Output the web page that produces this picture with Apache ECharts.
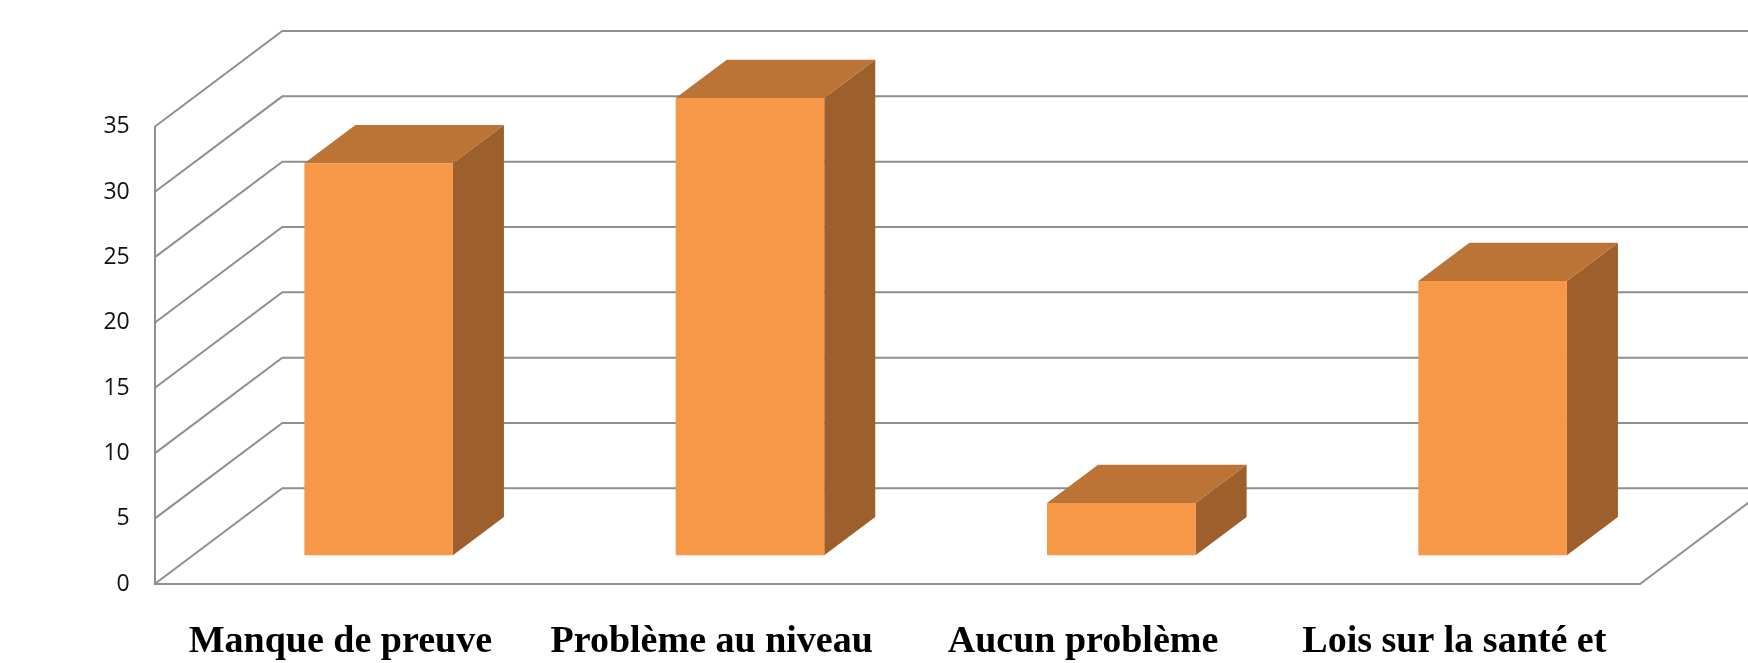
<!DOCTYPE html>
<html>
<head>
<meta charset="utf-8">
<title>Problèmes</title>
<script src="https://cdn.jsdelivr.net/npm/echarts@6/dist/echarts.min.js"></script>
<style>
  html, body { margin: 0; padding: 0; background: #fff; }
  #chart { width: 1748px; height: 663px; }
</style>
</head>
<body>
<div id="chart"></div>
<script>
  // données
  const categories = ['Manque de preuve', 'Problème au niveau', 'Aucun problème', 'Lois sur la santé et'];
  const values = [30, 35, 4, 21];
  const yTicks = [0, 5, 10, 15, 20, 25, 30, 35];

  // profondeur de la vue 3D (en pixels)
  const DX = 127.6;
  const DY = -95.7;
  const GRID_COLOR = '#8f8f8f';

  const chart = echarts.init(document.getElementById('chart'));

  // murs : une ligne par graduation (face gauche + mur du fond)
  function renderWall(params, api) {
    const cs = params.coordSys;
    const v = api.value(0);
    const y = api.coord([0, v])[1];
    const left = cs.x;
    const right = cs.x + cs.width;
    const children = [{
      type: 'polyline',
      shape: { points: [[left, y], [left + DX, y + DY], [right + DX, y + DY]] },
      style: { stroke: GRID_COLOR, lineWidth: 2, fill: null }
    }];
    if (v === 0) {
      // arête droite du sol
      children.push({
        type: 'line',
        shape: { x1: right, y1: y, x2: right + DX, y2: y + DY },
        style: { stroke: GRID_COLOR, lineWidth: 2 }
      });
    }
    return { type: 'group', children: children };
  }

  // barres 3D
  function renderBar(params, api) {
    const i = api.value(0);
    const v = api.value(1);
    const base = api.coord([i, 0]);
    const top = api.coord([i, v]);
    const bw = api.size([1, 0])[0] * 0.4;
    const fx = DX * 0.3, fy = DY * 0.3;   // décalage de la face avant
    const bx = DX * 0.4, by = DY * 0.4;   // épaisseur de la barre
    const x0 = base[0] + fx - bw / 2;
    const x1 = x0 + bw;
    const yb = base[1] + fy;
    const yt = top[1] + fy;
    return {
      type: 'group',
      children: [
        {
          type: 'polygon',
          shape: { points: [[x1, yt], [x1 + bx, yt + by], [x1 + bx, yb + by], [x1, yb]] },
          style: { fill: '#9d602d' }
        },
        {
          type: 'polygon',
          shape: { points: [[x0, yt], [x0 + bx, yt + by], [x1 + bx, yt + by], [x1, yt]] },
          style: { fill: '#bb7336' }
        },
        {
          type: 'rect',
          shape: { x: x0, y: yt, width: bw, height: yb - yt },
          style: { fill: '#f79748' }
        }
      ]
    };
  }

  const option = {
    animation: false,
    grid: { left: 154.7, right: 108, top: 126.7, bottom: 79 },
    xAxis: {
      type: 'category',
      data: categories,
      axisLine: { show: true, lineStyle: { color: GRID_COLOR, width: 2 } },
      axisTick: { show: false },
      axisLabel: {
        interval: 0,
        margin: 39,
        color: '#000',
        fontFamily: 'Liberation Serif',
        fontWeight: 'bold',
        fontSize: 38
      },
      splitLine: { show: false }
    },
    yAxis: {
      type: 'value',
      min: 0,
      max: 35,
      interval: 5,
      axisLine: { show: true, lineStyle: { color: GRID_COLOR, width: 2 } },
      axisTick: { show: false },
      axisLabel: {
        margin: 25,
        color: '#111',
        fontFamily: 'Open Sans',
        fontSize: 23
      },
      splitLine: { show: false }
    },
    series: [
      {
        type: 'custom',
        renderItem: renderWall,
        data: yTicks.map(t => [t]),
        encode: { y: 0 },
        silent: true,
        z: 1
      },
      {
        type: 'custom',
        renderItem: renderBar,
        data: values.map((v, i) => [i, v]),
        encode: { x: 0, y: 1 },
        z: 2
      }
    ]
  };

  chart.setOption(option);
</script>
</body>
</html>
